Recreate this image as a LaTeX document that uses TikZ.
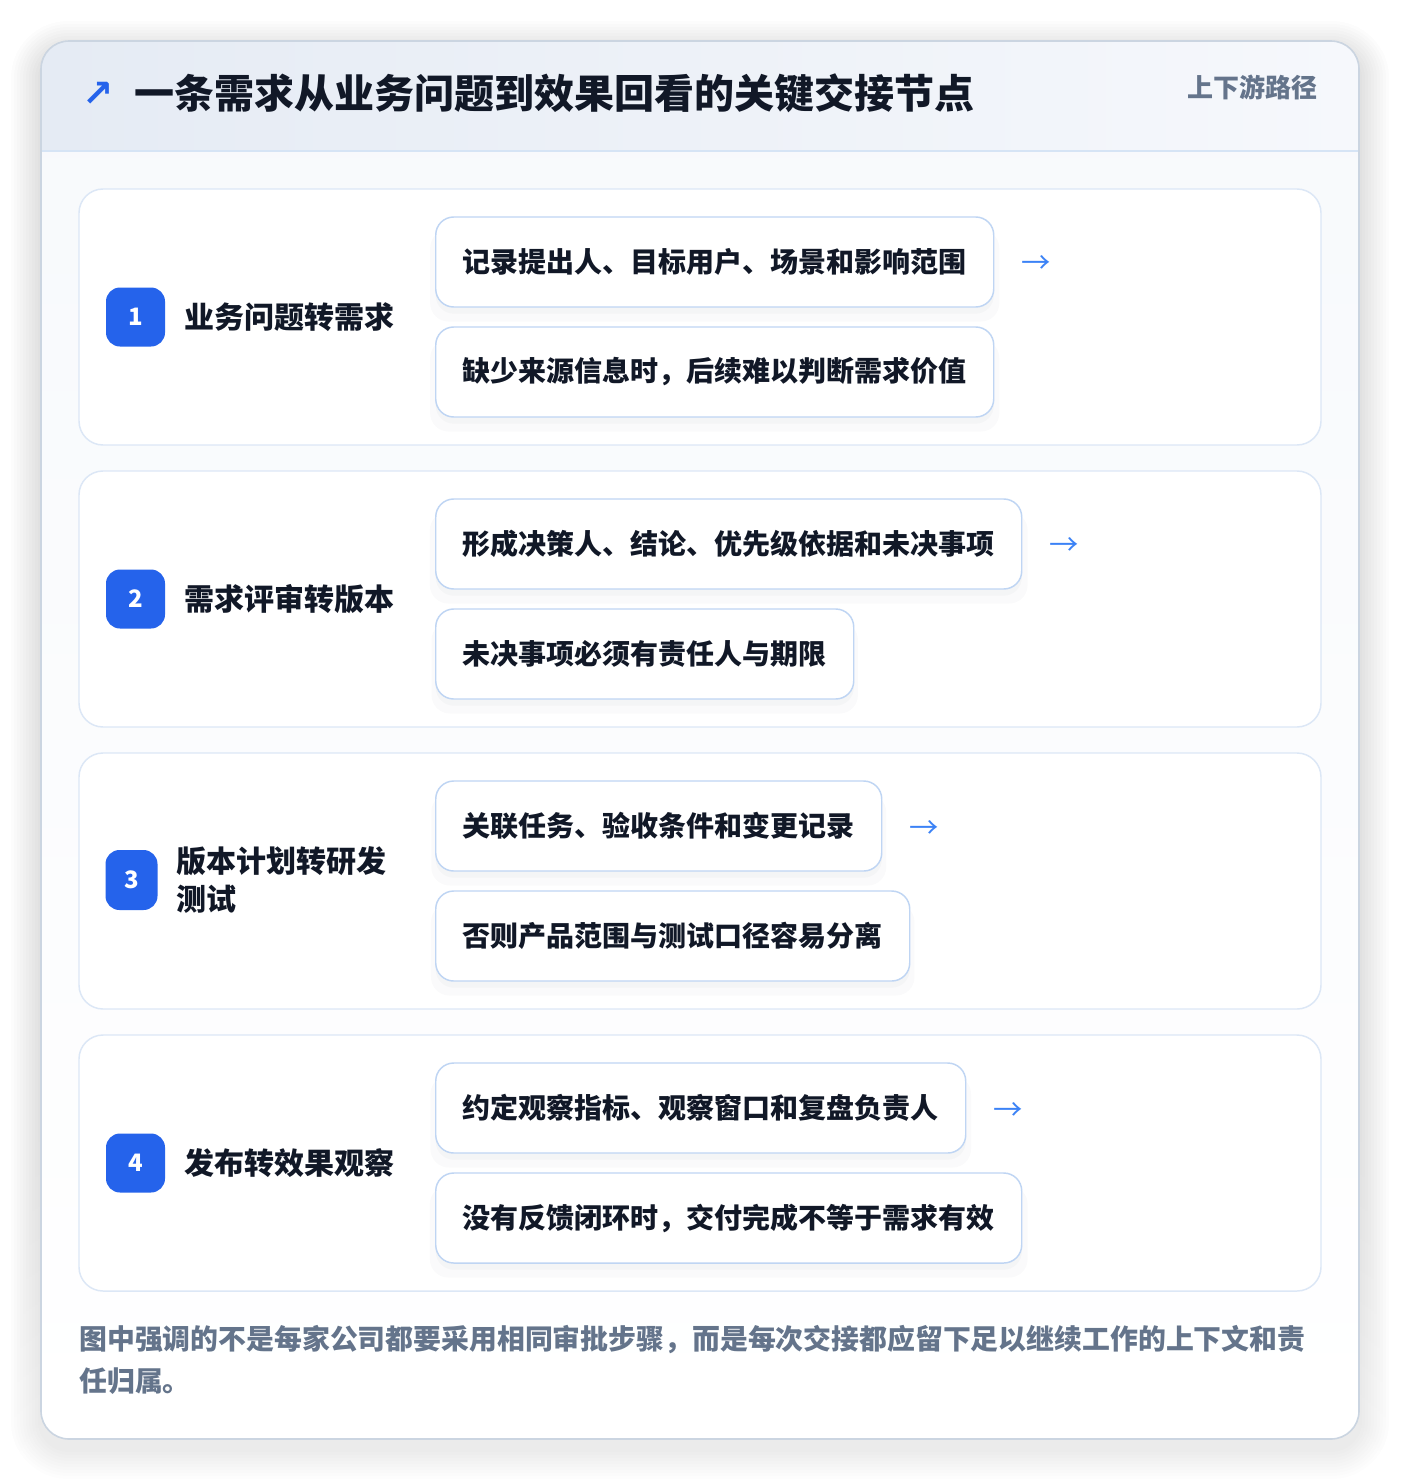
\documentclass[tikz,border=0pt]{standalone}
\usepackage{fontspec}
\setmainfont{Noto Sans CJK SC}
\newfontfamily\symfont{DejaVu Sans}
\usetikzlibrary{positioning,shadows}

\definecolor{ink}{HTML}{111827}
\definecolor{muted}{HTML}{64748B}
\definecolor{badgeblue}{HTML}{2563EB}
\definecolor{arrowblue}{HTML}{3B82F6}
\definecolor{frameline}{HTML}{CBD5E1}
\definecolor{cardline}{HTML}{DCE7F6}
\definecolor{itemline}{HTML}{BFD5F3}
\definecolor{headleft}{HTML}{E5EBF4}
\definecolor{headright}{HTML}{F6F8FC}
\definecolor{headline}{HTML}{D6E4F5}
\definecolor{panel}{HTML}{F7F9FC}
\definecolor{shade}{HTML}{1E293B}

\tikzset{
  card/.style={draw=cardline, fill=white, line width=1.1pt, rounded corners=18pt,
    minimum width=931.5pt, minimum height=192pt},
  badge/.style={fill=badgeblue, text=white, rounded corners=10.5pt,
    minimum width=44.25pt, minimum height=44.25pt, inner sep=0pt,
    font=\fontsize{18}{20}\selectfont\bfseries},
  stagelabel/.style={anchor=west, text=ink, align=left, inner sep=0pt,
    font=\bfseries\fontsize{22.5}{28}\selectfont},
  itembox/.style={anchor=west, draw=itemline, fill=white, line width=1.1pt,
    rounded corners=13.5pt, minimum height=67.5pt, inner xsep=20.25pt,
    text=ink, font=\bfseries\fontsize{21}{25}\selectfont,
    drop shadow={shadow xshift=0pt, shadow yshift=-10pt, shadow scale=1.02, opacity=0.02, fill=shade},
    drop shadow={shadow xshift=0pt, shadow yshift=-5pt, opacity=0.025, fill=shade}},
  nextarrow/.style={text=arrowblue, inner sep=0pt, yshift=-2.25pt, font=\fontsize{22}{24}\selectfont},
}

\begin{document}
\begin{tikzpicture}[x=0.75pt, y=-0.75pt]
  \useasboundingbox (0,0) rectangle (1400,1482);
  \fill[white] (0,0) rectangle (1400,1482);

  % soft shadow of the outer card
  \foreach \k in {1,...,10}
    \fill[shade, opacity=0.007, rounded corners=21pt+2.2pt*\k]
      (41-3*\k,51-3*\k) rectangle (1359+3*\k,1449+3*\k);

  % outer card with header band
  \fill[top color=panel, bottom color=white, rounded corners=21pt] (41,41) rectangle (1359,1439);
  \begin{scope}
    \clip[rounded corners=21pt] (41,41) rectangle (1359,1439);
    \fill[left color=headleft, right color=headright] (41,41) rectangle (1359,151);
  \end{scope}
  \draw[headline, line width=1.1pt] (41,151) -- (1359,151);
  \draw[frameline, line width=1.2pt, rounded corners=21pt] (41,41) rectangle (1359,1439);

  \node[text=badgeblue, font=\symfont\fontsize{28}{30}\selectfont\bfseries] (icon) at (98,94) {↗};
  \node[anchor=west, text=ink, inner sep=0pt, font=\bfseries\fontsize{30}{36}\selectfont] (title) at (134,93)
    {一条需求从业务问题到效果回看的关键交接节点};
  \node[anchor=east, text=muted, inner sep=0pt, font=\bfseries\fontsize{19.5}{24}\selectfont] (tag) at (1318,87) {上下游路径};

  % stage 1
  \node[card] (c1) at (700,317) {};
  \node[badge] (b1) at (135.5,317) {1};
  \node[stagelabel, right=14.25pt of b1] (s1) {业务问题转需求};
  \node[itembox] (i1a) at (435,262) {记录提出人、目标用户、场景和影响范围};
  \node[itembox] (i1b) at (435,372) {缺少来源信息时，后续难以判断需求价值};
  \node[nextarrow, right=20.25pt of i1a] (r1) {→};

  % stage 2
  \node[card] (c2) at (700,599) {};
  \node[badge] (b2) at (135.5,599) {2};
  \node[stagelabel, right=14.25pt of b2] (s2) {需求评审转版本};
  \node[itembox] (i2a) at (435,544) {形成决策人、结论、优先级依据和未决事项};
  \node[itembox] (i2b) at (435,654) {未决事项必须有责任人与期限};
  \node[nextarrow, right=20.25pt of i2a] (r2) {→};

  % stage 3
  \node[card] (c3) at (700,881) {};
  \node[badge, minimum width=39pt, minimum height=45pt] (b3) at (131.5,880) {3};
  \node[stagelabel, right=13.5pt of b3] (s3) {版本计划转研发\\测试};
  \node[itembox] (i3a) at (435,826) {关联任务、验收条件和变更记录};
  \node[itembox] (i3b) at (435,936) {否则产品范围与测试口径容易分离};
  \node[nextarrow, right=20.25pt of i3a] (r3) {→};

  % stage 4
  \node[card] (c4) at (700,1163) {};
  \node[badge] (b4) at (135.5,1163) {4};
  \node[stagelabel, right=14.25pt of b4] (s4) {发布转效果观察};
  \node[itembox] (i4a) at (435,1108) {约定观察指标、观察窗口和复盘负责人};
  \node[itembox] (i4b) at (435,1218) {没有反馈闭环时，交付完成不等于需求有效};
  \node[nextarrow, right=20.25pt of i4a] (r4) {→};

  \node[anchor=north west, align=left, inner sep=0pt, text=muted,
    font=\bfseries\fontsize{20.9}{31.5}\selectfont] (note) at (79,1325)
    {图中强调的不是每家公司都要采用相同审批步骤，而是每次交接都应留下足以继续工作的上下文和责\\任归属。};
\end{tikzpicture}
\end{document}
